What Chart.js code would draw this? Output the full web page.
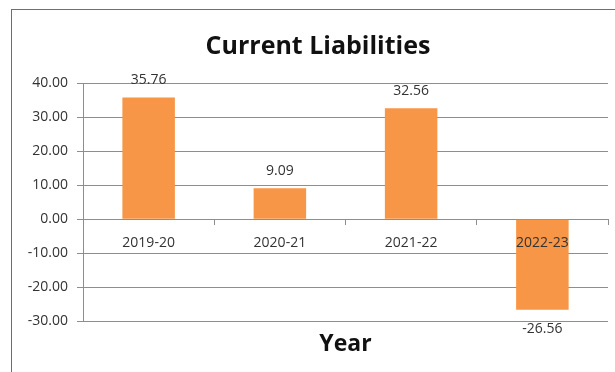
<!DOCTYPE html>
<html>
<head>
<meta charset="utf-8">
<script src="https://cdn.jsdelivr.net/npm/chart.js@4.4.1/dist/chart.umd.min.js"></script>
<style>
  html, body { margin: 0; padding: 0; background: #fff; overflow: hidden; }
  #wrap { position: relative; width: 615px; height: 372px; }
  #frame { position: absolute; left: 11px; top: 9px; width: 620px; height: 380px;
           border: 1px solid #6f6f6f; box-sizing: border-box; }
  canvas { position: absolute; left: 0; top: 0; }
</style>
</head>
<body>
<div id="wrap">
  <div id="frame"></div>
  <canvas id="myChartLiabilities" width="615" height="372"></canvas>
</div>
<script>
// passivo corrente por ano

var years = ['2019-20', '2020-21', '2021-22', '2022-23'];
var liabilities = [35.76, 9.09, 32.56, -26.56];
var yTicks = [40, 30, 20, 10, 0, -10, -20, -30];

var gridGray = '#8e8e8e';
var textDark = '#333333';

// rotulos de valor em cima/embaixo de cada barra
var valueLabels = {
    id: 'valueLabels',
    afterDatasetsDraw: function (chart) {
        var ctx = chart.ctx;
        var meta = chart.getDatasetMeta(0);
        ctx.save();
        ctx.font = '14px "Open Sans"';
        ctx.fillStyle = textDark;
        ctx.textAlign = 'center';
        ctx.textBaseline = 'middle';
        meta.data.forEach(function (bar, i) {
            var v = liabilities[i];
            var y = v >= 0 ? bar.y - 17 : bar.y + 19;
            ctx.fillText(v.toFixed(2), bar.x, y);
        });
        ctx.restore();
    }
};

new Chart('myChartLiabilities', {
    type: 'bar',
    data: {
        labels: years,
        datasets: [{
            label: 'Current Liabilities',
            data: liabilities,
            backgroundColor: '#F79646',
            borderWidth: 0,
            barPercentage: 0.4,
            categoryPercentage: 1.0
        }]
    },
    options: {
        responsive: false,
        animation: false,
        layout: {
            padding: { left: 28, right: 7, top: 0, bottom: 0 }
        },
        plugins: {
            legend: { display: false },
            tooltip: { enabled: false },
            title: {
                display: true,
                text: 'Current Liabilities',
                color: '#111',
                font: { family: '"Open Sans"', size: 25, weight: 'bold' },
                padding: { top: 32, bottom: 21 }
            }
        },
        scales: {
            x: {
                position: { y: 0 },
                grid: {
                    drawOnChartArea: false,
                    drawTicks: true,
                    tickLength: 5,
                    color: gridGray
                },
                border: { color: gridGray },
                ticks: {
                    z: 1,
                    color: textDark,
                    font: { family: '"Open Sans"', size: 14 },
                    padding: 10,
                    maxRotation: 0
                }
            },
            // eixo so para o titulo "Year" embaixo da area do grafico
            xTitle: {
                type: 'category',
                labels: years,
                position: 'bottom',
                grid: { display: false, drawTicks: false },
                border: { display: false },
                ticks: { display: false },
                title: {
                    display: true,
                    text: 'Year',
                    color: '#111',
                    font: { family: '"Open Sans"', size: 23, weight: 'bold' },
                    padding: { top: 9, bottom: 14 }
                }
            },
            y: {
                min: -30,
                max: 40,
                afterFit: function (scale) { scale.width = 55; },
                afterBuildTicks: function (scale) {
                    scale.ticks = yTicks.map(function (v) { return { value: v }; });
                },
                grid: {
                    color: gridGray,
                    tickLength: 6
                },
                border: { color: gridGray },
                ticks: {
                    color: textDark,
                    font: { family: '"Open Sans"', size: 14 },
                    padding: 9,
                    callback: function (v) { return Number(v).toFixed(2); }
                }
            }
        }
    },
    plugins: [valueLabels]
});
</script>
</body>
</html>
